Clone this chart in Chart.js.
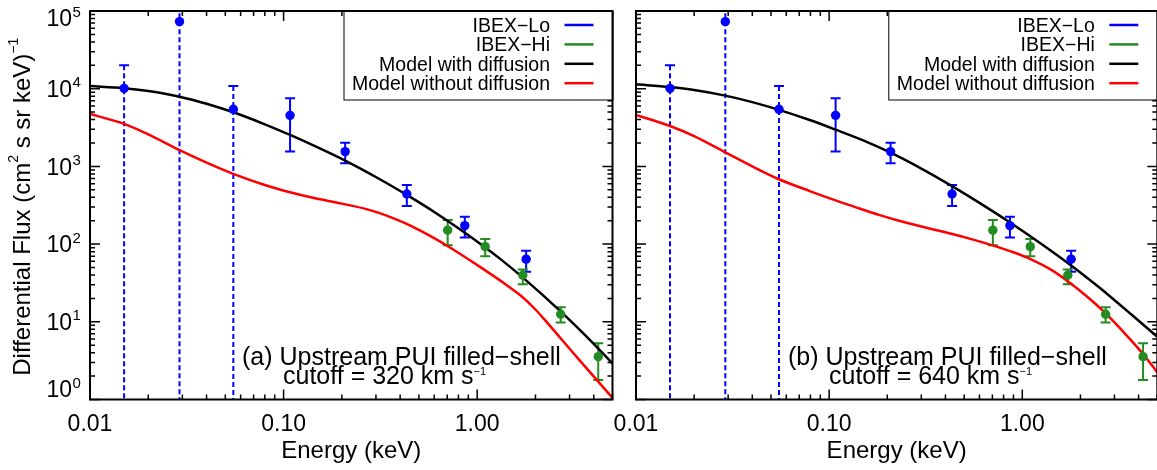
<!DOCTYPE html>
<html>
<head>
<meta charset="utf-8">
<title>IBEX PUI spectra</title>
<script src="https://cdn.jsdelivr.net/npm/chart.js@4.4.1/dist/chart.umd.min.js"></script>
<style>
  html, body { margin: 0; padding: 0; background: #fff; overflow: hidden; }
  body { width: 1157px; height: 470px; position: relative; }
  canvas { position: absolute; top: 0; }
  #panelA { left: 0; width: 620px; height: 470px; }
  #panelB { left: 610px; width: 552px; height: 470px; }
</style>
</head>
<body>
<canvas id="panelA" width="620" height="470"></canvas>
<canvas id="panelB" width="552" height="470"></canvas>
<script>
// observations (same in both panels)
const loEnergy = [0.015, 0.029, 0.055, 0.108, 0.208, 0.433, 0.863, 1.79];
const loFlux = [10100, 73000, 5430, 4540, 1550, 441, 173, 64];
const loErrUp = [20000, 1e6, 10800, 7520, 2020, 576, 225, 82];
const loErrDown = [0, 0, 0, 1550, 1100, 310, 122, 44]; // 0 = bar reaches zero (dashed)

const hiEnergy = [0.704, 1.10, 1.72, 2.70, 4.22];
const hiFlux = [151, 92.6, 39.7, 12.5, 3.56];
const hiErrUp = [204, 116, 47, 15.4, 5.3];
const hiErrDown = [97, 70, 30.4, 9.8, 1.78];

// panel (a), cutoff 320 km/s
const aDiffE = [0.01, 0.015, 0.02, 0.029, 0.04, 0.055, 0.08, 0.108, 0.15, 0.208, 0.311, 0.435, 0.6, 0.86, 1.1, 1.3, 1.7, 2.73, 4.0, 5.0];
const aDiffF = [10800, 10160, 9320, 7890, 6410, 4970, 3480, 2540, 1757, 1188, 694, 426, 259, 141, 90.5, 66, 38.1, 13.2, 5.2, 2.9];
const aNoDiffE = [0.01, 0.015, 0.02, 0.029, 0.04, 0.055, 0.08, 0.108, 0.14, 0.2, 0.265, 0.311, 0.39, 0.46, 0.58, 0.686, 1.02, 1.4, 1.7, 2.0, 2.24, 3.33, 5.0];
const aNoDiffF = [4720, 3520, 2580, 1620, 1120, 802, 576, 464, 397, 332, 284, 252, 203, 169, 125, 98, 52, 30.4, 21.2, 14.4, 10.5, 3.33, 1.05];

// panel (b), cutoff 640 km/s
const bDiffE = [0.01, 0.015, 0.02, 0.029, 0.04, 0.055, 0.08, 0.108, 0.15, 0.208, 0.3, 0.435, 0.6, 0.86, 1.3, 1.79, 2.46, 2.87, 3.66, 5.0];
const bDiffF = [11400, 10500, 9640, 8150, 6720, 5340, 3920, 2970, 2160, 1500, 938, 553, 339, 191, 94.6, 53, 28.6, 20.9, 12.5, 6.4];
const bNoDiffE = [0.01, 0.015, 0.02, 0.029, 0.04, 0.055, 0.08, 0.108, 0.14, 0.181, 0.23, 0.29, 0.38, 0.5, 0.695, 0.9, 1.117, 1.4, 1.727, 2.2, 2.67, 3.4, 4.24, 5.0];
const bNoDiffF = [4590, 3315, 2455, 1515, 1000, 683, 478, 365, 293, 238, 200, 172, 146, 123, 97, 78.5, 63.3, 47.2, 33.0, 20.4, 13.2, 7.05, 3.8, 2.23];

const xTickValues = [0.01, 0.1, 1];
const xTickLabels = ['0.01', '0.10', '1.00'];
const yTickExp = [0, 1, 2, 3, 4, 5];
const legendLabels = ['IBEX\u2212Lo', 'IBEX\u2212Hi', 'Model with diffusion', 'Model without diffusion'];

const BLUE = '#0000ff', GREEN = '#228b22', RED = '#ff0000', BLACK = '#000000';
const legendColors = [BLUE, GREEN, BLACK, RED];
const FONT = '"Liberation Sans", Arial, Helvetica, sans-serif';

function font(size) { return size + 'px ' + FONT; }

function pairs(xs, ys) { return xs.map((x, i) => ({ x: x, y: ys[i] })); }

// draw text with superscript pieces, left aligned on a baseline
function partsWidth(ctx, parts, size, supSize) {
  let w = 0;
  parts.forEach(p => { ctx.font = font(p.sup ? supSize : size); w += ctx.measureText(p.t).width; });
  return w;
}
function drawParts(ctx, x, y, parts, size, supSize, rise) {
  let cx = x;
  ctx.textAlign = 'left';
  ctx.textBaseline = 'alphabetic';
  parts.forEach(p => {
    ctx.font = font(p.sup ? supSize : size);
    ctx.fillText(p.t, cx, p.sup ? y - rise : y);
    cx += ctx.measureText(p.t).width;
  });
}

function drawErrorBars(chart, xs, up, down, color) {
  const { ctx, chartArea: a, scales: { x, y } } = chart;
  ctx.save();
  ctx.beginPath();
  ctx.rect(a.left, a.top, a.right - a.left, a.bottom - a.top);
  ctx.clip();
  ctx.strokeStyle = color;
  ctx.lineWidth = 2;
  xs.forEach((e, i) => {
    const px = x.getPixelForValue(e);
    const open = down[i] <= 0;
    const yTop = y.getPixelForValue(up[i]);
    const yBot = open ? a.bottom + 5 : y.getPixelForValue(down[i]);
    ctx.setLineDash(open ? [5, 3] : []);
    ctx.beginPath();
    ctx.moveTo(px, yTop);
    ctx.lineTo(px, yBot);
    ctx.stroke();
    ctx.setLineDash([]);
    ctx.beginPath();
    if (yTop > a.top) { ctx.moveTo(px - 5, yTop); ctx.lineTo(px + 5, yTop); }
    if (!open) { ctx.moveTo(px - 5, yBot); ctx.lineTo(px + 5, yBot); }
    ctx.stroke();
  });
  ctx.restore();
}

const idlPanel = {
  id: 'idlPanel',
  beforeDatasetsDraw(chart) {
    drawErrorBars(chart, loEnergy, loErrUp, loErrDown, BLUE);
    drawErrorBars(chart, hiEnergy, hiErrUp, hiErrDown, GREEN);
  },
  afterDatasetsDraw(chart, args, opts) {
    const { ctx, chartArea: a, scales: { x, y } } = chart;
    ctx.save();
    ctx.fillStyle = BLACK;
    ctx.strokeStyle = BLACK;

    // inward ticks on all four sides
    ctx.lineWidth = 1.5;
    ctx.beginPath();
    xTickValues.forEach(d => {
      for (let m = 1; m <= 9; m++) {
        const v = d * m;
        if (v > 5.0001) break;
        const px = x.getPixelForValue(v);
        const len = m === 1 ? 10 : 5;
        ctx.moveTo(px, a.bottom); ctx.lineTo(px, a.bottom - len);
        ctx.moveTo(px, a.top); ctx.lineTo(px, a.top + len);
      }
    });
    yTickExp.forEach(k => {
      for (let m = 1; m <= 9; m++) {
        const v = m * Math.pow(10, k);
        if (v > 1e5 * 1.0001) break;
        const py = y.getPixelForValue(v);
        const len = m === 1 ? 10 : 5;
        ctx.moveTo(a.left, py); ctx.lineTo(a.left + len, py);
        ctx.moveTo(a.right, py); ctx.lineTo(a.right - len, py);
      }
    });
    ctx.stroke();

    // legend box
    const lx0 = a.right - 269, ly0 = a.top, lh = 88.5;
    ctx.fillStyle = '#fff';
    ctx.fillRect(lx0, ly0, a.right - lx0, lh);
    ctx.lineWidth = 1;
    ctx.strokeRect(lx0 + 0.5, ly0 + 0.5, a.right - lx0, lh);
    legendLabels.forEach((lab, i) => {
      const yy = ly0 + 14 + i * 19.4;
      ctx.fillStyle = BLACK;
      ctx.font = font(19.5);
      ctx.textAlign = 'right';
      ctx.textBaseline = 'alphabetic';
      ctx.fillText(lab, a.right - 62.5, yy + 7);
      ctx.strokeStyle = legendColors[i];
      ctx.lineWidth = 2.5;
      ctx.beginPath();
      ctx.moveTo(a.right - 48, yy);
      ctx.lineTo(a.right - 19, yy);
      ctx.stroke();
    });

    // frame
    ctx.strokeStyle = BLACK;
    ctx.lineWidth = 2;
    ctx.strokeRect(a.left, a.top, a.right - a.left, a.bottom - a.top);

    // x tick labels and title
    ctx.fillStyle = BLACK;
    ctx.font = font(23);
    ctx.textAlign = 'center';
    ctx.textBaseline = 'alphabetic';
    xTickValues.forEach((v, i) => ctx.fillText(xTickLabels[i], x.getPixelForValue(v), 431));
    ctx.font = font(24);
    ctx.fillText('Energy (keV)', (a.left + a.right) / 2, 458);

    // y tick labels and title (left panel only)
    if (opts.yLabels) {
      yTickExp.forEach(k => {
        const py = y.getPixelForValue(Math.pow(10, k));
        const cy = Math.min(Math.max(py, a.top + 7), a.bottom - 10.5);
        ctx.font = font(23);
        ctx.textAlign = 'right';
        ctx.fillText('10', 72, cy + 8.3);
        ctx.font = font(15);
        ctx.textAlign = 'left';
        ctx.fillText(String(k), 72.5, cy - 1.5);
      });
      const title = [
        { t: 'Differential Flux (cm' }, { t: '2', sup: true },
        { t: ' s sr keV)' }, { t: '\u22121', sup: true }
      ];
      ctx.save();
      ctx.translate(30, (a.top + a.bottom) / 2 + 1.5);
      ctx.rotate(-Math.PI / 2);
      const w = partsWidth(ctx, title, 24, 14);
      drawParts(ctx, -w / 2, 0, title, 24, 14, 12);
      ctx.restore();
    }

    // panel annotation
    drawParts(ctx, a.left + 152, 364.5, [{ t: opts.tag + ' Upstream PUI filled\u2212shell' }], 25, 11, 9);
    drawParts(ctx, a.left + 193, 383.5, [
      { t: 'cutoff = ' + opts.cutoff + ' km s' }, { t: '\u22121', sup: true }
    ], 25, 11, 9);
    ctx.restore();
  }
};

function makePanel(id, padLeft, padRight, diffE, diffF, noDiffE, noDiffF, tag, cutoff, yLabels) {
  return new Chart(document.getElementById(id), {
    type: 'scatter',
    data: {
      datasets: [
        { label: legendLabels[0], data: pairs(loEnergy, loFlux), backgroundColor: BLUE, borderWidth: 0, pointRadius: 4.7, showLine: false },
        { label: legendLabels[1], data: pairs(hiEnergy, hiFlux), backgroundColor: GREEN, borderWidth: 0, pointRadius: 4.7, showLine: false },
        { label: legendLabels[2], data: pairs(diffE, diffF), borderColor: BLACK, borderWidth: 2.5, pointRadius: 0, showLine: true, cubicInterpolationMode: 'monotone' },
        { label: legendLabels[3], data: pairs(noDiffE, noDiffF), borderColor: RED, borderWidth: 2.5, pointRadius: 0, showLine: true, cubicInterpolationMode: 'monotone' }
      ]
    },
    options: {
      responsive: false,
      animation: false,
      layout: { padding: { left: padLeft, right: padRight, top: 11, bottom: 70.5 } },
      scales: {
        x: { type: 'logarithmic', min: 0.01, max: 5, display: false },
        y: { type: 'logarithmic', min: 1, max: 1e5, display: false }
      },
      plugins: {
        legend: { display: false },
        tooltip: { enabled: false },
        idlPanel: { tag: tag, cutoff: cutoff, yLabels: yLabels }
      }
    },
    plugins: [idlPanel]
  });
}

makePanel('panelA', 90, 7.5, aDiffE, aDiffF, aNoDiffE, aNoDiffF, '(a)', '320', true);
makePanel('panelB', 26, 3.2, bDiffE, bDiffF, bNoDiffE, bNoDiffF, '(b)', '640', false);
</script>
</body>
</html>
